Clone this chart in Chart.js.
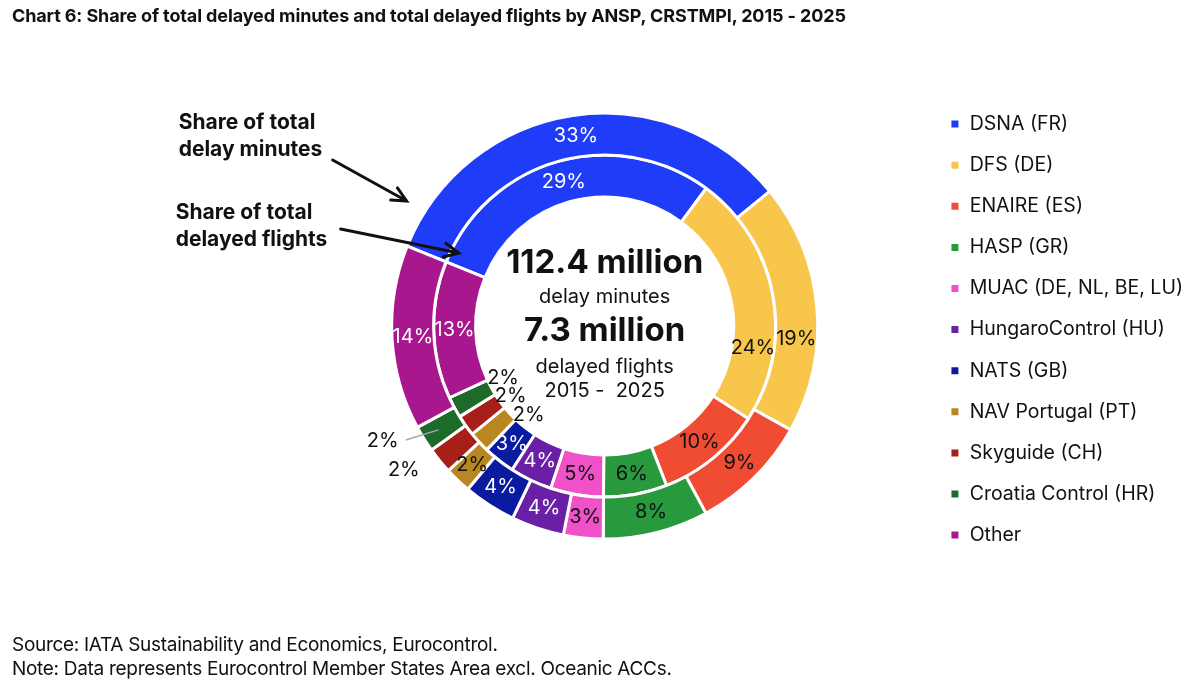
<!DOCTYPE html>
<html>
<head>
<meta charset="utf-8">
<script src="https://cdn.jsdelivr.net/npm/chart.js@4.4.1/dist/chart.umd.min.js"></script>
<style>
  html, body { margin: 0; padding: 0; background: #fff; }
  body { width: 1200px; height: 684px; position: relative; overflow: hidden; font-family: Inter, "Noto Sans", sans-serif; color: #111; }
  #title { position: absolute; left: 12px; top: 5px; font-size: 18px; font-weight: 700; letter-spacing: -0.12px; white-space: nowrap; }
  #notes { position: absolute; left: 12px; top: 633px; font-size: 19px; line-height: 24px; letter-spacing: -0.3px; white-space: nowrap; }
  #wrap { position: absolute; left: 0; top: 0; width: 1200px; height: 684px; }
</style>
</head>
<body>
<div id="wrap"><canvas id="c"></canvas></div>
<div id="title">Chart 6: Share of total delayed minutes and total delayed flights by ANSP, CRSTMPI, 2015 - 2025</div>
<div id="notes">Source: IATA Sustainability and Economics, Eurocontrol.<br>Note: Data represents Eurocontrol Member States Area excl. Oceanic ACCs.</div>
<script>
const ansps = ["DSNA (FR)", "DFS (DE)", "ENAIRE (ES)", "HASP (GR)", "MUAC (DE, NL, BE, LU)",
  "HungaroControl (HU)", "NATS (GB)", "NAV Portugal (PT)", "Skyguide (CH)", "Croatia Control (HR)", "Other"];
// outer ring: share of total delay minutes (%)
const delayMinutes = [33, 19, 9, 8, 3, 4, 4, 2, 2, 2, 14];
// inner ring: share of total delayed flights (%)
const delayedFlights = [29, 24, 10, 6, 5, 4, 3, 2, 2, 2, 13];
const centreLines = ["112.4 million", "delay minutes", "7.3 million", "delayed flights", "2015 -  2025"];

const colours = ["#1f3cf8", "#f8c64a", "#f04c34", "#289a3d", "#f050c8", "#6a20a6",
  "#0a1ba0", "#b8871f", "#a62019", "#1d6a2b", "#a8178e"];
const whiteText = [true, false, false, false, false, true, true, false, false, false, true];

// nudges for labels that Excel moved off the slice centre (key = dataset-index)
const labelNudge = {
  "0-1": { da: 9 },
  "1-1": { da: 19 },
  "0-8": { r: 247, da: 3.6 },
  "0-9": { r: 250, da: 4.6, leader: true },
  "1-7": { r: 117, da: -6.7 },
  "1-8": { r: 117, da: -1 },
  "1-9": { r: 114, da: 1.4 },
};

const FONT = "Inter, 'Noto Sans', sans-serif";

const extras = {
  id: "extras",
  afterDatasetsDraw(chart) {
    const c = chart.ctx;
    const first = chart.getDatasetMeta(0).data[0];
    const cx = first.x, cy = first.y;
    c.save();
    c.textAlign = "center";
    c.textBaseline = "middle";

    // percentage labels
    chart.data.datasets.forEach((ds, di) => {
      chart.getDatasetMeta(di).data.forEach((arc, i) => {
        const nd = labelNudge[di + "-" + i] || {};
        const mid = (arc.startAngle + arc.endAngle) / 2 + (nd.da || 0) * Math.PI / 180;
        const r = nd.r || (arc.innerRadius + arc.outerRadius) / 2;
        const x = cx + r * Math.cos(mid), y = cy + r * Math.sin(mid);
        const outside = nd.r && (nd.r > arc.outerRadius || nd.r < arc.innerRadius);
        if (nd.leader) {
          const am = (arc.startAngle + arc.endAngle) / 2;
          c.strokeStyle = "#a6a6a6";
          c.lineWidth = 1.5;
          c.beginPath();
          c.moveTo(x + 23, y - 1);
          c.lineTo(cx + 196 * Math.cos(am), cy + 196 * Math.sin(am));
          c.stroke();
        }
        c.font = "20px " + FONT;
        c.fillStyle = (!outside && whiteText[i]) ? "#fff" : "#111";
        c.fillText(ds.data[i] + "%", x, y);
      });
    });

    // centre text
    const offs = [-63, -29, 5, 41, 65];
    centreLines.forEach((t, k) => {
      c.font = (k === 0 || k === 2) ? "bold 33px " + FONT : "20px " + FONT;
      c.fillStyle = "#111";
      c.fillText(t, cx, cy + offs[k]);
    });

    // ring annotations
    c.textAlign = "left";
    c.font = "bold 21px " + FONT;
    c.fillText("Share of total", cx - 426, cy - 203);
    c.fillText("delay minutes", cx - 426, cy - 176);
    c.fillText("Share of total", cx - 429, cy - 113);
    c.fillText("delayed flights", cx - 429, cy - 86);

    const arrow = (x1, y1, x2, y2) => {
      const a = Math.atan2(y2 - y1, x2 - x1);
      c.strokeStyle = "#111";
      c.lineWidth = 3;
      c.lineCap = "round";
      c.beginPath();
      c.moveTo(x1, y1);
      c.lineTo(x2, y2);
      c.moveTo(x2 - 16 * Math.cos(a - 0.45), y2 - 16 * Math.sin(a - 0.45));
      c.lineTo(x2, y2);
      c.lineTo(x2 - 16 * Math.cos(a + 0.45), y2 - 16 * Math.sin(a + 0.45));
      c.stroke();
    };
    arrow(cx - 272, cy - 166, cx - 198, cy - 125);
    arrow(cx - 264, cy - 97, cx - 146, cy - 73);
    c.restore();
  },
};

new Chart(document.getElementById("c"), {
  type: "doughnut",
  data: {
    labels: ansps,
    datasets: [
      { label: "Share of total delay minutes", data: delayMinutes, backgroundColor: colours },
      { label: "Share of total delayed flights", data: delayedFlights, backgroundColor: colours },
    ],
  },
  options: {
    responsive: true,
    maintainAspectRatio: false,
    animation: false,
    rotation: -68,
    cutout: "60.6%",
    radius: 213,
    borderColor: "#fff",
    borderWidth: 3,
    hoverOffset: 0,
    layout: { padding: { left: 281, top: 64, bottom: 96, right: 7 } },
    plugins: {
      tooltip: { enabled: false },
      legend: {
        position: "right",
        align: "center",
        // empty title only used to push the items down a few px
        title: { display: true, text: " ", font: { size: 1 }, padding: 3 },
        labels: {
          boxWidth: 10,
          boxHeight: 10,
          padding: 21.6,
          color: "#111",
          font: { family: FONT, size: 19.5 },
        },
      },
    },
  },
  plugins: [extras],
});
</script>
</body>
</html>
